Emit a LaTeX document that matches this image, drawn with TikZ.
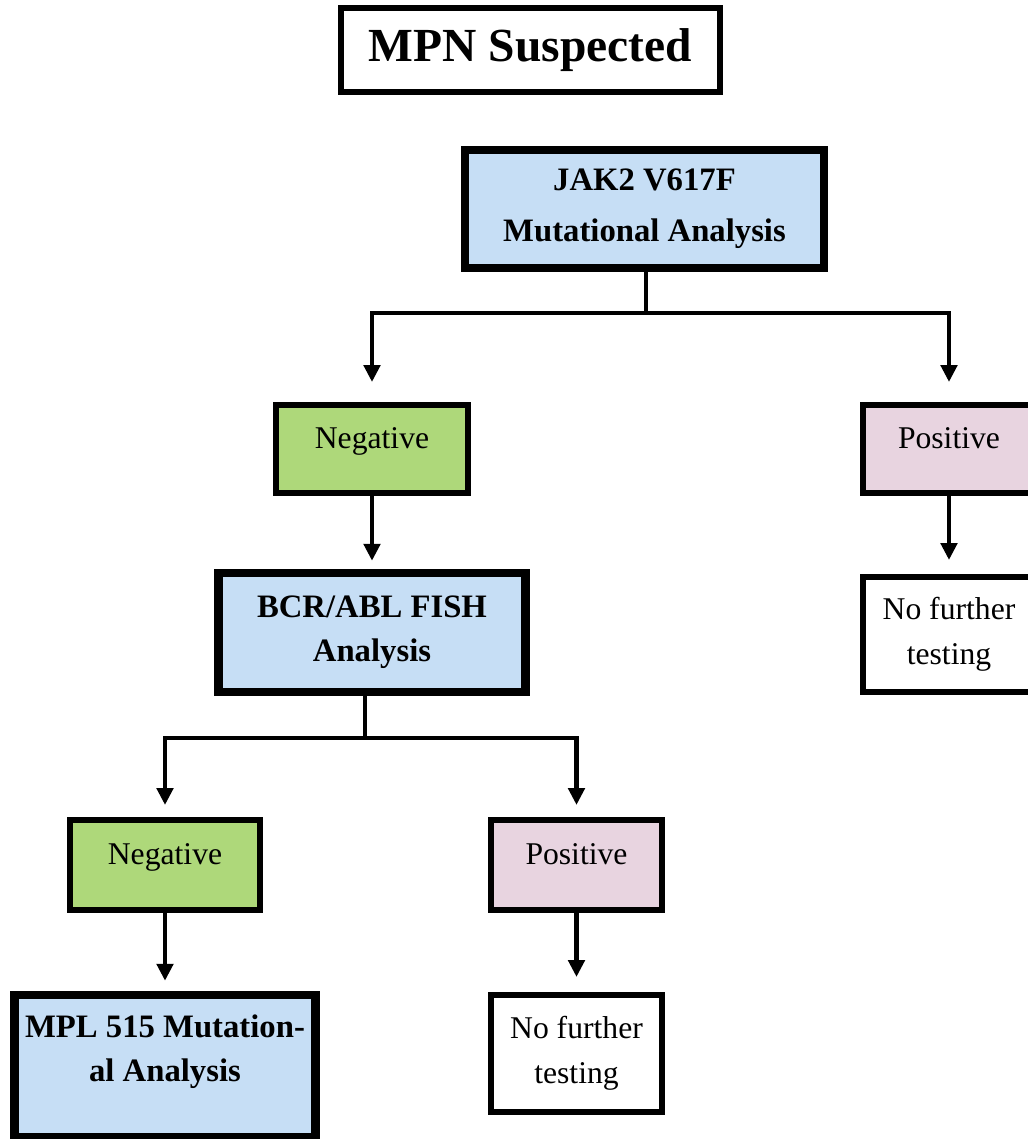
\documentclass[tikz,border=0pt]{standalone}
\usepackage{fontspec}
\setmainfont{Liberation Serif}
\usetikzlibrary{arrows.meta}

\definecolor{testblue}{RGB}{198,222,245}
\definecolor{neggreen}{RGB}{174,216,122}
\definecolor{pospink}{RGB}{232,212,224}

\begin{document}
\begin{tikzpicture}[x = 0.01cm, y = -0.01cm, > = {Triangle[length = 4.8pt, width = 4.6pt]},
	box/.style = {draw, rectangle, inner sep = 0pt, align = center, line width = 1.7pt},
	test/.style = {box, fill = testblue, line width = 2.4pt, font = \bfseries\fontsize{9.3}{12.6}\selectfont},
	result/.style = {box, font = \fontsize{9}{12.8}\selectfont},
	answer/.style = {result, text depth = 6.5pt},
	link/.style = {line width = 1.2pt}]

	\useasboundingbox (0, 0) rectangle (1028, 1139);
	\clip (0, 0) rectangle (1028, 1139);

	% Title
	
	\node [box, line width = 1.5pt, minimum width = 3.79cm, minimum height = 0.84cm,
		font = \bfseries\fontsize{13.5}{16}\selectfont] (mpn) at (530.5, 50) {MPN Suspected};

	% JAK2 test + results
	
	\node [test, minimum width = 3.59cm, minimum height = 1.18cm] (jak) at (644.5, 209) {JAK2 V617F\\[2pt]Mutational Analysis};
	
	\node [answer, fill = neggreen, minimum width = 1.91cm, minimum height = 0.88cm] (neg1) at (372, 449) {Negative};
	\node [answer, fill = pospink, minimum width = 1.72cm, minimum height = 0.88cm] (pos1) at (949, 449) {Positive};
	\node [result, minimum width = 1.72cm, minimum height = 1.15cm] (nft1) at (949, 634.5) {No further\\testing};
	
	\coordinate (split1) at (646, 313);
	\draw [link] (jak.south -| split1) -- (split1);
	\draw [link, ->] (split1) -| ([yshift = 0.2cm] neg1.north);
	\draw [link, ->] (split1) -| ([yshift = 0.2cm] pos1.north);
	\draw [link, ->] (pos1.south) -- ([yshift = 0.14cm] nft1.north);

	% BCR/ABL test + results
	
	\node [test, minimum width = 3.07cm, minimum height = 1.19cm] (bcr) at (372, 632.5) {BCR/ABL FISH\\Analysis};
	\draw [link, ->] (neg1.south) -- ([yshift = 0.08cm] bcr.north);
	
	\node [answer, fill = neggreen, minimum width = 1.9cm, minimum height = 0.9cm] (neg2) at (165, 865) {Negative};
	\node [answer, fill = pospink, minimum width = 1.71cm, minimum height = 0.9cm] (pos2) at (576.5, 865) {Positive};
	\node [result, minimum width = 1.71cm, minimum height = 1.17cm] (nft2) at (576.5, 1053.5) {No further\\testing};
	\node [test, minimum width = 3.01cm, minimum height = 1.42cm, text depth = 10pt] (mpl) at (165, 1066) {MPL 515 Mutation-\\al Analysis};
	
	\coordinate (split2) at (365, 738);
	\draw [link] (bcr.south -| split2) -- (split2);
	\draw [link, ->] (split2) -| ([yshift = 0.12cm] neg2.north);
	\draw [link, ->] (split2) -| ([yshift = 0.12cm] pos2.north);
	\draw [link, ->] (neg2.south) -- ([yshift = 0.1cm] mpl.north);
	\draw [link, ->] (pos2.south) -- ([yshift = 0.15cm] nft2.north);

\end{tikzpicture}
\end{document}
